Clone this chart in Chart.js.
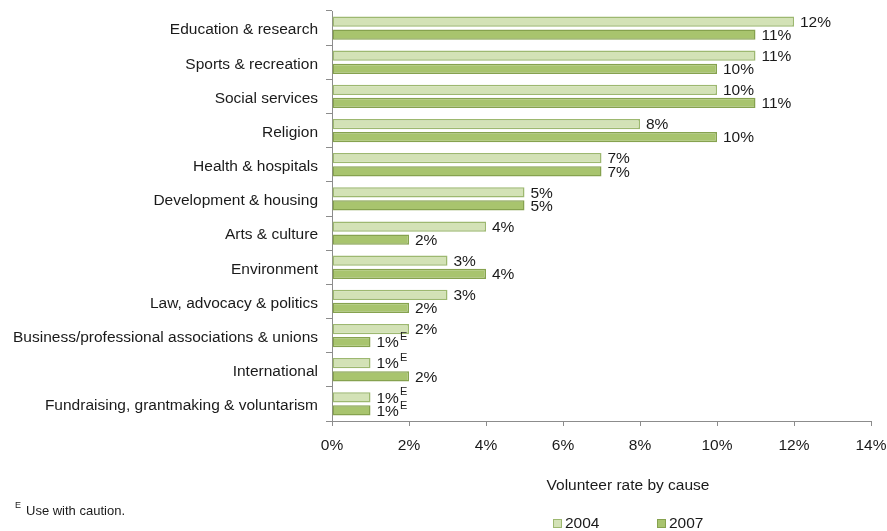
<!DOCTYPE html>
<html>
<head>
<meta charset="utf-8">
<script src="https://cdn.jsdelivr.net/npm/chart.js@4/dist/chart.umd.min.js"></script>
<style>
  html, body { margin: 0; padding: 0; background: #ffffff; }
  #wrap { width: 887px; height: 531px; position: relative; }
</style>
</head>
<body>
<div id="wrap"><canvas id="c" width="887" height="531"></canvas></div>
<script>
// Volunteer rate by cause, 2004 vs 2007
const causes = [
  'Education & research',
  'Sports & recreation',
  'Social services',
  'Religion',
  'Health & hospitals',
  'Development & housing',
  'Arts & culture',
  'Environment',
  'Law, advocacy & politics',
  'Business/professional associations & unions',
  'International',
  'Fundraising, grantmaking & voluntarism'
];
const rate2004 = [12, 11, 10, 8, 7, 5, 4, 3, 3, 2, 1, 1];
const rate2007 = [11, 10, 11, 10, 7, 5, 2, 4, 2, 1, 2, 1];
// true where the estimate carries the "E" (use with caution) flag
const flag2004 = [false, false, false, false, false, false, false, false, false, false, true, true];
const flag2007 = [false, false, false, false, false, false, false, false, false, true, false, true];
const xTicks = [0, 2, 4, 6, 8, 10, 12, 14];
const seriesNames = ['2004', '2007'];

const FONT = '"Liberation Sans", Arial, sans-serif';
const TEXT = '#1a1a1a';
const FS = 15.5;

const flags = [flag2004, flag2007];

// Value labels to the right of each bar, with a superscript E where flagged
const valueLabels = {
  id: 'valueLabels',
  afterDatasetsDraw(chart) {
    const ctx = chart.ctx;
    ctx.save();
    chart.data.datasets.forEach((ds, di) => {
      const meta = chart.getDatasetMeta(di);
      meta.data.forEach((bar, i) => {
        const txt = ds.data[i] + '%';
        ctx.font = FS + 'px ' + FONT;
        ctx.fillStyle = TEXT;
        ctx.textBaseline = 'middle';
        ctx.textAlign = 'left';
        const x = bar.x + 6;
        const y = bar.y + 1;
        ctx.fillText(txt, x, y);
        if (flags[di][i]) {
          const w = ctx.measureText(txt).width;
          ctx.font = '11px ' + FONT;
          ctx.fillText('E', x + w + 1, y - 6);
        }
      });
    });
    ctx.restore();
  }
};

// Axis title, legend and footnote below the plot
const bottomText = {
  id: 'bottomText',
  afterDraw(chart) {
    const ctx = chart.ctx;
    ctx.save();
    ctx.fillStyle = TEXT;
    ctx.textBaseline = 'middle';
    ctx.textAlign = 'center';
    ctx.font = FS + 'px ' + FONT;
    ctx.fillText('Volunteer rate by cause', 628, 486);

    // legend
    const legendX = [553, 657];
    chart.data.datasets.forEach((ds, di) => {
      const bx = legendX[di];
      const by = 519;
      ctx.fillStyle = ds.backgroundColor;
      ctx.fillRect(bx, by, 9, 9);
      ctx.strokeStyle = ds.borderColor;
      ctx.lineWidth = 1;
      ctx.strokeRect(bx + 0.5, by + 0.5, 8, 8);
      ctx.fillStyle = TEXT;
      ctx.textAlign = 'left';
      ctx.font = FS + 'px ' + FONT;
      ctx.fillText(ds.label, bx + 12, by + 5);
    });

    // footnote
    ctx.textAlign = 'left';
    ctx.font = '9px ' + FONT;
    ctx.fillText('E', 15, 506);
    ctx.font = '13px ' + FONT;
    ctx.fillText('Use with caution.', 26, 511);
    ctx.restore();
  }
};

new Chart(document.getElementById('c'), {
  type: 'bar',
  data: {
    labels: causes,
    datasets: [
      {
        label: seriesNames[0],
        data: rate2004,
        backgroundColor: '#d3e2b6',
        borderColor: '#9db870',
        borderWidth: 1.5,
        borderSkipped: false,
        categoryPercentage: 0.77,
        barPercentage: 0.78
      },
      {
        label: seriesNames[1],
        data: rate2007,
        backgroundColor: '#a8c46e',
        borderColor: '#86a24f',
        borderWidth: 1.5,
        borderSkipped: false,
        categoryPercentage: 0.77,
        barPercentage: 0.78
      }
    ]
  },
  options: {
    indexAxis: 'y',
    responsive: false,
    animation: false,
    layout: { padding: { top: 11, right: 16, left: 0, bottom: 0 } },
    plugins: {
      legend: { display: false },
      tooltip: { enabled: false }
    },
    scales: {
      x: {
        min: 0,
        max: 14,
        afterBuildTicks(scale) {
          scale.ticks = xTicks.map(v => ({ value: v }));
        },
        afterFit(scale) {
          scale.height = 110;
          scale.paddingRight = 16;
        },
        border: { display: true, color: '#8c8c8c', width: 1 },
        grid: { drawOnChartArea: false, drawTicks: true, tickLength: 5, color: '#8c8c8c' },
        ticks: {
          padding: 10,
          color: TEXT,
          font: { family: FONT, size: FS },
          callback: v => v + '%'
        }
      },
      y: {
        afterFit(scale) {
          scale.width = 332;
          scale.paddingTop = 0;
          scale.paddingBottom = 0;
        },
        border: { display: true, color: '#8c8c8c', width: 1 },
        grid: { drawOnChartArea: false, drawTicks: true, tickLength: 6, offset: true, color: '#8c8c8c' },
        ticks: {
          padding: 8,
          labelOffset: 2,
          color: TEXT,
          font: { family: FONT, size: FS },
          autoSkip: false
        }
      }
    }
  },
  plugins: [valueLabels, bottomText]
});
</script>
</body>
</html>
